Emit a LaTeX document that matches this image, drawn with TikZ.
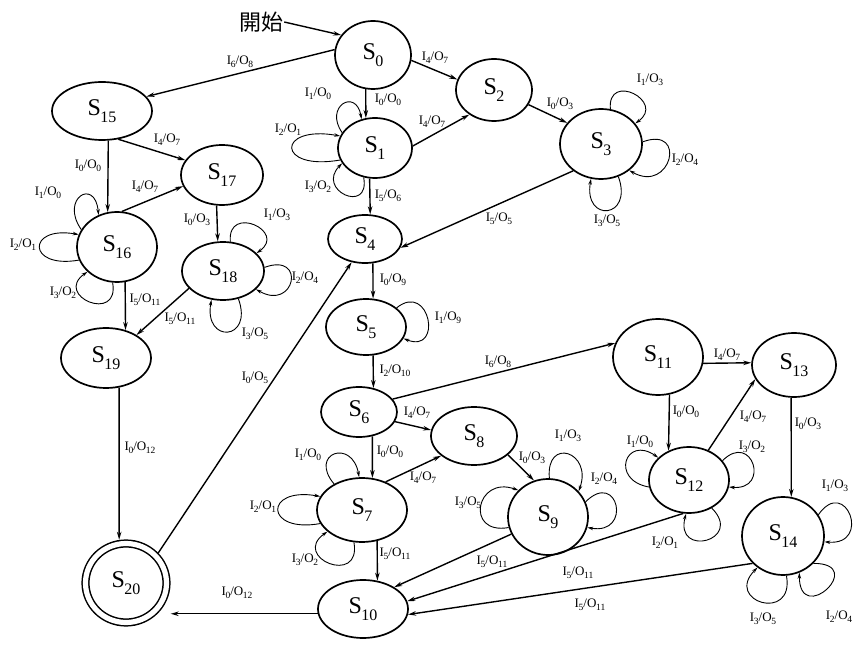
\documentclass[tikz,border=0pt]{standalone}
\usepackage{fontspec}
\setmainfont{Liberation Serif}
\newfontfamily\cjkfont{Noto Sans CJK TC}
\usetikzlibrary{arrows.meta,shapes.geometric}
\newcommand{\stn}[1]{S\kern-0.5pt\raisebox{-0.3em}{\fontsize{16}{16}\selectfont #1}}
\newcommand{\iol}[2]{I\kern-0.3pt\raisebox{-0.22em}{\fontsize{9.5}{9.5}\selectfont #1}/O\kern-0.3pt\raisebox{-0.22em}{\fontsize{9.5}{9.5}\selectfont #2}}
\newcommand{\selfloop}[6]{\draw[lp] (#1.#2) .. controls +(#3:#4) and +(#5:#4) .. (#1.#6);}
\begin{document}
\begin{tikzpicture}[x=1pt,y=1pt,
 st/.style={ellipse, draw, line width=1.7pt, inner sep=0pt, font=\fontsize{24}{24}\selectfont},
 edge/.style={line width=1.4pt, -{Stealth[length=8pt,width=4.5pt]}},
 lp/.style={line width=0.9pt, -{Stealth[length=6pt,width=3.5pt]}},
 lab/.style={font=\fontsize{13}{13}\selectfont, inner sep=0pt}]
\useasboundingbox (0,0) rectangle (854,646);
% states
\node[st, minimum width=76pt, minimum height=68pt] (S0) at (373,591) {\stn{0}};
\node[st, minimum width=74pt, minimum height=60pt] (S1) at (375,498) {\stn{1}};
\node[st, minimum width=76pt, minimum height=62pt] (S2) at (494,556) {\stn{2}};
\node[st, minimum width=82pt, minimum height=70pt] (S3) at (601,502) {\stn{3}};
\node[st, minimum width=74pt, minimum height=48pt] (S4) at (365,407) {\stn{4}};
\node[st, minimum width=80pt, minimum height=56pt] (S5) at (366,319) {\stn{5}};
\node[st, minimum width=76pt, minimum height=50pt] (S6) at (359,234) {\stn{6}};
\node[st, minimum width=90pt, minimum height=64pt] (S7) at (362,136) {\stn{7}};
\node[st, minimum width=86pt, minimum height=58pt] (S8) at (474,210) {\stn{8}};
\node[st, minimum width=80pt, minimum height=76pt] (S9) at (548,129) {\stn{9}};
\node[st, minimum width=90pt, minimum height=58pt] (S10) at (363,37) {\stn{10}};
\node[st, minimum width=90pt, minimum height=76pt] (S11) at (658,289) {\stn{11}};
\node[st, minimum width=80pt, minimum height=66pt] (S12) at (689,166) {\stn{12}};
\node[st, minimum width=84pt, minimum height=64pt] (S13) at (794,281) {\stn{13}};
\node[st, minimum width=82pt, minimum height=78pt] (S14) at (783,110) {\stn{14}};
\node[st, minimum width=100pt, minimum height=58pt] (S15) at (102,535) {\stn{15}};
\node[st, minimum width=80pt, minimum height=70pt] (S16) at (117,399) {\stn{16}};
\node[st, minimum width=82pt, minimum height=60pt] (S17) at (222,471) {\stn{17}};
\node[st, minimum width=82pt, minimum height=58pt] (S18) at (223,375) {\stn{18}};
\node[st, minimum width=90pt, minimum height=60pt] (S19) at (106,288) {\stn{19}};
\node[st, line width=1.5pt, double, double distance=5.2pt, outer sep=4.2pt, minimum width=81pt, minimum height=79pt] (S20) at (126,63) {\stn{20}};
% start
\node[inner sep=1pt, font=\cjkfont\fontsize{22}{22}\selectfont] (start) at (261,624) {開始};
\draw[edge] (start.east) -- (S0.148);
% transitions
\draw[edge] (S0.172) -- (S15.18);
\draw[edge] (S0.258) -- (S1.107);
\draw[edge] (S0.352) -- (S2.164);
\draw[edge] (S1.3) -- (S2.225);
\draw[edge] (S2.337) -- (S3.148);
\draw[edge] (S1.260) -- (S4.78);
\draw[edge] (S3.224) -- (S4.346);
\draw[edge] (S4.288) -- (S5.76);
\draw[edge] (S5.284) -- (S6.59);
\draw[edge] (S6.21) -- (S11.162);
\draw[edge] (S6.345) -- (S8.172);
\draw[edge] (S6.299) -- (S7.72);
\draw[edge] (S7.50) -- (S8.211);
\draw[edge] (S8.331) -- (S9.111);
\draw[edge] (S7.296) -- (S10.63);
\draw[edge] (S9.205) -- (S10.35);
\draw[edge] (S12.260) -- (S10.10);
\draw[edge] (S14.222) -- (S10.353);
\draw[edge] (S11.352) -- (S13.177);
\draw[edge] (S11.287) -- (S12.125);
\draw[edge] (S12.57) -- (S13.200);
\draw[edge] (S13.265) -- (S14.78);
\draw[edge] (S15.282) -- (S16.105);
\draw[edge] (S15.300) -- (S17.158);
\draw[edge] (S16.82) -- (S17.196);
\draw[edge] (S17.260) -- (S18.100);
\draw[edge] (S16.283) -- (S19.55);
\draw[edge] (S18.207) -- (S19.37);
\draw[edge] (S19.294) -- (S20.99);
\draw[edge] (S20.43) -- (S4.240);
\draw[edge] (S10.186) -- (S10.186 -| S20.east);
% self loops
\selfloop{S1}{155}{125}{32}{100}{115}
\selfloop{S1}{199}{190}{65}{170}{161}
\selfloop{S1}{249}{280}{38}{225}{205}
\selfloop{S3}{75}{95}{38}{35}{31}
\selfloop{S3}{3}{20}{48}{-30}{317}
\selfloop{S3}{298}{-70}{45}{-100}{254}
\selfloop{S5}{32}{39}{43}{-22}{343}
\selfloop{S7}{137}{130}{40}{100}{95}
\selfloop{S7}{198}{190}{57}{170}{162}
\selfloop{S7}{256}{280}{45}{215}{212}
\selfloop{S9}{88}{95}{42}{70}{40}
\selfloop{S9}{22}{45}{46}{-10}{345}
\selfloop{S9}{195}{190}{45}{160}{138}
\selfloop{S12}{190}{170}{40}{145}{144}
\selfloop{S12}{30}{45}{42}{-5}{350}
\selfloop{S12}{309}{-45}{46}{255}{265}
\selfloop{S14}{31}{55}{48}{-5}{352}
\selfloop{S14}{275}{-80}{48}{225}{231}
\selfloop{S14}{318}{0}{55}{270}{294}
\selfloop{S16}{154}{125}{38}{95}{120}
\selfloop{S16}{199}{190}{53}{170}{162}
\selfloop{S16}{263}{280}{42}{215}{220}
\selfloop{S18}{76}{95}{38}{35}{28}
\selfloop{S18}{5}{20}{45}{-30}{331}
\selfloop{S18}{299}{-70}{45}{-100}{248}
% transition labels
\node[lab] (t1) at (240,584) {\iol{6}{8}};
\node[lab] (t2) at (388,546) {\iol{0}{0}};
\node[lab] (t3) at (435,588) {\iol{4}{7}};
\node[lab] (t4) at (432,524) {\iol{4}{7}};
\node[lab] (t5) at (560,542) {\iol{0}{3}};
\node[lab] (t6) at (388,450) {\iol{5}{6}};
\node[lab] (t7) at (499,427) {\iol{5}{5}};
\node[lab] (t8) at (393,366) {\iol{0}{9}};
\node[lab] (t9) at (395,275) {\iol{2}{10}};
\node[lab] (t10) at (498,284) {\iol{6}{8}};
\node[lab] (t11) at (417,233) {\iol{4}{7}};
\node[lab] (t12) at (390,194) {\iol{0}{0}};
\node[lab] (t13) at (423,168) {\iol{4}{7}};
\node[lab] (t14) at (532,188) {\iol{0}{3}};
\node[lab] (t15) at (395,92) {\iol{5}{11}};
\node[lab] (t16) at (492,84) {\iol{5}{11}};
\node[lab] (t17) at (578,73) {\iol{5}{11}};
\node[lab] (t18) at (590,41) {\iol{5}{11}};
\node[lab] (t19) at (727,291) {\iol{4}{7}};
\node[lab] (t20) at (686,234) {\iol{0}{0}};
\node[lab] (t21) at (753,229) {\iol{4}{7}};
\node[lab] (t22) at (808,222) {\iol{0}{3}};
\node[lab] (t23) at (88,480) {\iol{0}{0}};
\node[lab] (t24) at (167,506) {\iol{4}{7}};
\node[lab] (t25) at (145,459) {\iol{4}{7}};
\node[lab] (t26) at (197,426) {\iol{0}{3}};
\node[lab] (t27) at (145,346) {\iol{5}{11}};
\node[lab] (t28) at (180,327) {\iol{5}{11}};
\node[lab] (t29) at (140,198) {\iol{0}{12}};
\node[lab] (t30) at (255,268) {\iol{0}{5}};
\node[lab] (t31) at (237,53) {\iol{0}{12}};
% loop labels
\node[lab] (u1) at (318,552) {\iol{1}{0}};
\node[lab] (u2) at (288,516) {\iol{2}{1}};
\node[lab] (u3) at (318,459) {\iol{3}{2}};
\node[lab] (u4) at (650,566) {\iol{1}{3}};
\node[lab] (u5) at (685,486) {\iol{2}{4}};
\node[lab] (u6) at (607,425) {\iol{3}{5}};
\node[lab] (u7) at (448,328) {\iol{1}{9}};
\node[lab] (u8) at (308,191) {\iol{1}{0}};
\node[lab] (u9) at (263,139) {\iol{2}{1}};
\node[lab] (u10) at (305,86) {\iol{3}{2}};
\node[lab] (u11) at (568,210) {\iol{1}{3}};
\node[lab] (u12) at (604,167) {\iol{2}{4}};
\node[lab] (u13) at (468,143) {\iol{3}{5}};
\node[lab] (u14) at (640,204) {\iol{1}{0}};
\node[lab] (u15) at (752,199) {\iol{3}{2}};
\node[lab] (u16) at (665,103) {\iol{2}{1}};
\node[lab] (u17) at (835,160) {\iol{1}{3}};
\node[lab] (u18) at (763,27) {\iol{3}{5}};
\node[lab] (u19) at (839,29) {\iol{2}{4}};
\node[lab] (u20) at (48,453) {\iol{1}{0}};
\node[lab] (u21) at (23,401) {\iol{2}{1}};
\node[lab] (u22) at (63,353) {\iol{3}{2}};
\node[lab] (u23) at (277,431) {\iol{1}{3}};
\node[lab] (u24) at (305,368) {\iol{2}{4}};
\node[lab] (u25) at (255,312) {\iol{3}{5}};
\end{tikzpicture}
\end{document}
